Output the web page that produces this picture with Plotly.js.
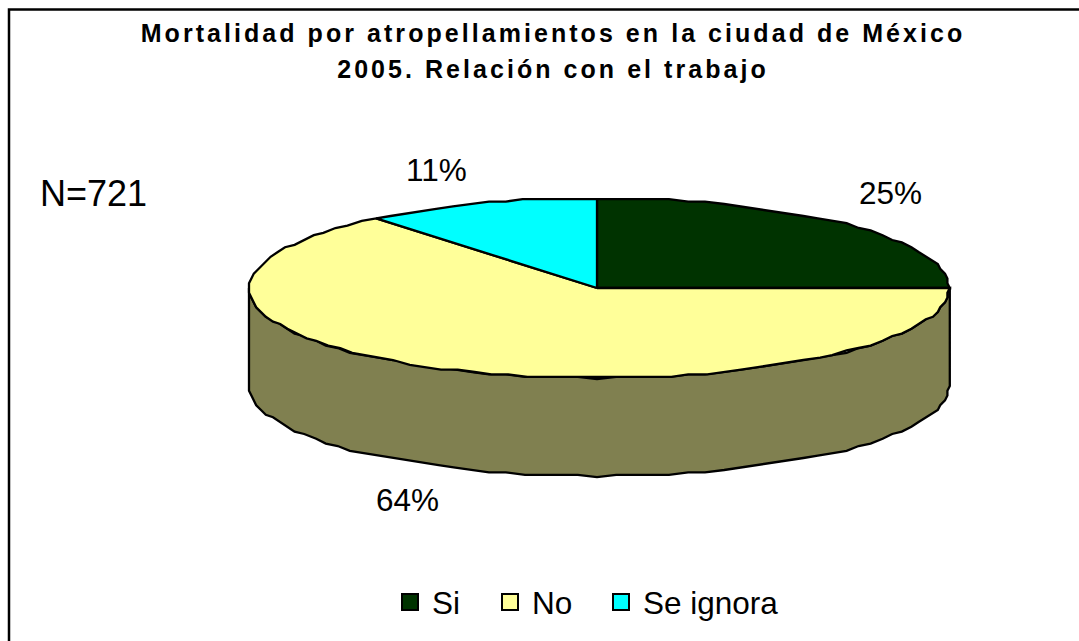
<!DOCTYPE html>
<html><head><meta charset="utf-8">
<script src="https://cdn.plot.ly/plotly-3.0.1.min.js"></script>
<style>html,body{margin:0;padding:0;background:#fff}
.g-gtitle text{letter-spacing:3.05px}</style></head>
<body><div id="chart" style="width:1079px;height:641px"></div>
<script>
const categories = ["Si", "No", "Se ignora"];
const values = [25, 64, 11];
const percentLabels = ["25%", "64%", "11%"];
const sliceColors = ["#003300", "#FFFF99", "#00FFFF"];
const wallColor = "#808050";
const titleLines = ["Mortalidad por atropellamientos en la ciudad de México", "2005. Relación con el trabajo"];

const cx = 597, cy = 288, rxLeft = 348, rxRight = 352, ry = 90, depth = 98, snap = 2.4;
const total = values.reduce((a, b) => a + b, 0);
const q = v => Math.round(v / snap) * snap;
function pt(deg, dy) {
  const s = Math.sin(deg * Math.PI / 180), c = Math.cos(deg * Math.PI / 180);
  const rx = s >= 0 ? rxRight : rxLeft;
  return [cx + q(rx * s), cy + q(-ry * c) + (dy || 0)];
}
function arc(a, b, dy) {
  const n = Math.max(2, Math.round(Math.abs(b - a) / 3));
  const out = [];
  for (let i = 0; i <= n; i++) out.push(pt(a + (b - a) * i / n, dy));
  return out;
}
const traces = [];
const wall = arc(90, 270, 0).concat(arc(270, 90, depth));
wall.push(wall[0]);
traces.push({x: wall.map(p => p[0]), y: wall.map(p => p[1]), mode: "lines", fill: "toself", fillcolor: wallColor,
  line: {color: "#000", width: 2.3}, showlegend: false, hoverinfo: "skip"});
let start = 0;
values.forEach((v, i) => {
  const end = start + v / total * 360;
  const poly = [[cx, cy]].concat(arc(start, end, 0));
  poly.push([cx, cy]);
  traces.push({x: poly.map(p => p[0]), y: poly.map(p => p[1]), mode: "lines", fill: "toself", fillcolor: sliceColors[i],
    line: {color: "#000", width: 2.3}, showlegend: false, hoverinfo: "skip"});
  start = end;
});
const legendIds = ["legend", "legend2", "legend3"];
const legendLeft = [388, 488, 599];
categories.forEach((c, i) => traces.push({x: [null], y: [null], name: c, mode: "markers", legend: legendIds[i],
  marker: {symbol: "square", size: 18, color: sliceColors[i], line: {color: "#000", width: 2}}}));

const font = "Liberation Sans, Arial, sans-serif";
const ann = (text, x, y, size) => ({text, x, y, xref: "x", yref: "y", showarrow: false, font: {family: font, size, color: "#000"}, xanchor: "center", yanchor: "middle"});
const layout = {
  width: 1079, height: 641, margin: {l: 0, r: 0, t: 0, b: 0}, paper_bgcolor: "#fff", plot_bgcolor: "#fff",
  title: {text: titleLines.map(t => '<span style="font-size:25px"><b>' + t + "</b></span>").join("<br>"),
    x: 553 / 1079, xref: "paper", xanchor: "center", y: 1 - 42 / 641, yref: "container", yanchor: "middle",
    font: {family: font, size: 28, color: "#000"}},
  xaxis: {range: [0, 1079], visible: false, fixedrange: true},
  yaxis: {range: [641, 0], visible: false, fixedrange: true},
  shapes: [{type: "rect", xref: "x", yref: "y", x0: 9, y0: 9.5, x1: 1100, y1: 660, line: {color: "#000", width: 2.5}, fillcolor: "rgba(0,0,0,0)", layer: "below"}],
  annotations: [
    ann("N=721", 93, 193, 36),
    ann(percentLabels[0], 890, 193, 31.5),
    ann(percentLabels[1], 407, 500, 31.5),
    ann(percentLabels[2], 436, 170, 31.5)
  ],
  showlegend: true
};
legendIds.forEach((id, i) => {
  layout[id] = {x: legendLeft[i] / 1079, xanchor: "left", y: 1 - 602 / 641, yanchor: "middle", font: {family: font, size: 31.5, color: "#000"}, itemwidth: 34, bgcolor: "rgba(0,0,0,0)"};
});
Plotly.newPlot("chart", traces, layout, {displayModeBar: false, staticPlot: true});
</script></body></html>
